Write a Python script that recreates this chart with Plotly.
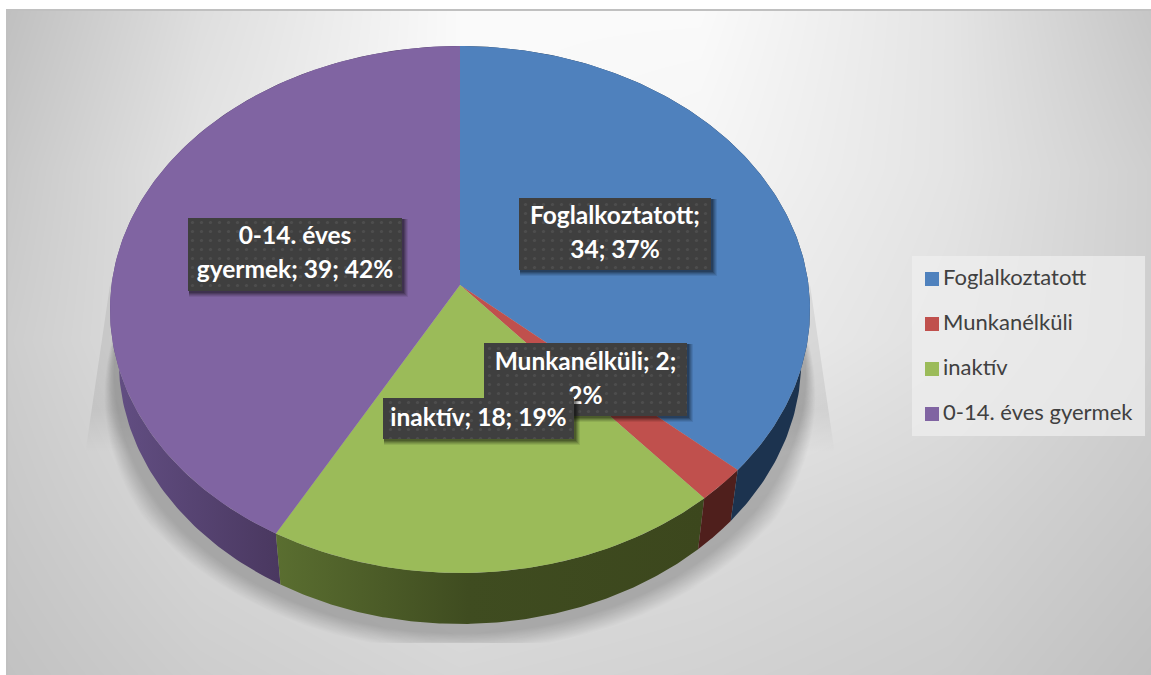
import numpy as np
import plotly.graph_objects as go

categories = ["Foglalkoztatott", "Munkanélküli", "inaktív", "0-14. éves gyermek"]
values = [34, 2, 18, 39]
top_colors = ["#4f81bd", "#c0504d", "#9bbb59", "#8064a2"]
wall_scales = [
    [[0, "#1c334f"], [1, "#1c334f"]],
    [[0, "#4f1f1c"], [1, "#4f1f1c"]],
    [[0, "#5a6e30"], [0.45, "#3f4c20"], [1, "#3c471d"]],
    [[0, "#634f84"], [0.48, "#4a3860"], [1, "#4a3860"]],
]
label_breaks = [
    ["Foglalkoztatott;", "{v}; {p}%"],
    ["Munkanélküli; {v};", "{p}%"],
    ["inaktív; {v}; {p}%"],
    ["0-14. éves", "gyermek; {v}; {p}%"],
]
label_boxes = [(519, 711, 198, 270), (484, 687, 343, 416), (383, 574, 398, 439), (188, 402, 218, 291)]
label_line_y = [[218, 252], [364, 398], [420], [238, 272]]
draw_order = [0, 3, 1, 2]
legend_y = [279, 324, 369, 414]

bg_x = [8, 200, 460, 700, 950, 1151]
bg_y = [11, 170, 340, 510, 675]
bg_z = [
    [192, 222, 250, 250, 228, 198],
    [200, 228, 250, 245, 228, 207],
    [205, 225, 240, 238, 224, 207],
    [200, 215, 225, 220, 212, 200],
    [194, 205, 214, 210, 204, 192],
]

CX, CY, RX, RY, K = 460.0, 285.0, 348.5, 261.2, 0.093
DEPTH, TAPER = 51.0, 0.975
FONT = "Lato"


def top_ring(a):
    u, v = np.sin(a), -np.cos(a)
    w = 1 - K * v
    return CX + RX * u / w, CY + RY * v / w


def bottom_ring(a, grow=0.0):
    x, y = top_ring(a)
    s = 1 + grow * np.clip((0.15 - np.cos(a)) / 0.75, 0.0, 1.0) / 350.0
    midy = 310 + DEPTH
    return CX + (x - CX) * TAPER * s, midy + (y + DEPTH - midy) * s


fig = go.Figure()
fig.add_trace(go.Heatmap(x=bg_x, y=bg_y, z=bg_z, zmin=0, zmax=255, zsmooth="best", showscale=False,
                         colorscale=[[0, "#000000"], [1, "#ffffff"]], hoverinfo="skip"))

# soft shadow under the disc
for sgn in (1, -1):
    fig.add_trace(go.Scatter(x=[CX + sgn * 350, CX + sgn * 375, CX + sgn * 280],
                             y=[285, 455, 500], mode="lines", fill="toself", line=dict(width=0),
                             hoverinfo="skip", showlegend=False,
                             fillgradient=dict(type="vertical", colorscale=[
                                 [0, "rgba(0,0,0,0)"], [0.22, "rgba(0,0,0,0)"], [0.42, "rgba(0,0,0,0.07)"],
                                 [1, "rgba(0,0,0,0.07)"]])))
a = np.linspace(-0.6 * np.pi, 0.6 * np.pi, 200) + np.pi
for g in np.arange(36, 12, -1.5):
    x, y = bottom_ring(a, g)
    fig.add_trace(go.Scatter(x=x, y=np.minimum(y, 643), mode="lines", fill="toself", line=dict(width=0),
                             fillcolor="rgba(0,0,0,0.0135)", hoverinfo="skip", showlegend=False))

total = sum(values)
edges = 2 * np.pi * np.cumsum([0] + values) / total

# side walls
for i in [3, 2, 1, 0]:
    a = np.linspace(edges[i], edges[i + 1], 160)
    x1, y1 = top_ring(a)
    x2, y2 = bottom_ring(a)
    fig.add_trace(go.Scatter(x=np.r_[x1, x2[::-1]], y=np.r_[y1, y2[::-1]], mode="lines", fill="toself",
                             line=dict(width=0), hoverinfo="skip", showlegend=False,
                             fillgradient=dict(type="horizontal", colorscale=wall_scales[i])))
# top faces
for i, c in enumerate(categories):
    a = np.linspace(edges[i], edges[i + 1], 160)
    x, y = top_ring(a)
    fig.add_trace(go.Scatter(x=np.r_[CX, x, CX], y=np.r_[CY, y, CY], mode="lines", fill="toself",
                             line=dict(width=0), fillcolor=top_colors[i], name=c, showlegend=False,
                             hoverinfo="name"))

# data labels
for i in draw_order:
    x0, x1, y0, y1 = label_boxes[i]
    for off, al in ((6, 0.08), (5, 0.10), (4, 0.12), (3, 0.16), (2, 0.18)):
        fig.add_trace(go.Scatter(x=[x0 + 1, x1 + off, x1 + off, x0 + 1, x0 + 1],
                                 y=[y0 + 1, y0 + 1, y1 + off, y1 + off, y0 + 1], mode="lines", fill="toself",
                                 line=dict(width=0), fillcolor=f"rgba(0,0,0,{al})", hoverinfo="skip",
                                 showlegend=False))
    fig.add_trace(go.Scatter(x=[x0, x1, x1, x0, x0], y=[y0, y0, y1, y1, y0], mode="lines", fill="toself",
                             line=dict(width=0), hoverinfo="skip", showlegend=False,
                             fillcolor="#3f3f3f",
                             fillpattern=dict(shape=".", bgcolor="#3f3f3f", fgcolor="#5c5c5c", size=9, solidity=0.1)))
    p = round(100 * values[i] / total)
    texts = [t.format(v=values[i], p=p) for t in label_breaks[i]]
    fig.add_trace(go.Scatter(x=[(x0 + x1) / 2] * len(texts), y=label_line_y[i], mode="text", text=texts,
                             textposition="middle center", hoverinfo="skip", showlegend=False,
                             textfont=dict(family=FONT, size=24.5, color="#ffffff", weight="bold")))

# legend panel
fig.add_trace(go.Scatter(x=[912, 1145, 1145, 912, 912], y=[256, 256, 436, 436, 256], mode="lines", fill="toself",
                         line=dict(width=0), fillcolor="rgba(240,240,240,0.7)", hoverinfo="skip", showlegend=False))
fig.add_trace(go.Scatter(x=[932] * 4, y=legend_y, mode="markers", hoverinfo="skip", showlegend=False,
                         marker=dict(symbol="square", size=14, color=top_colors, line=dict(width=0))))
fig.add_trace(go.Scatter(x=[943] * 4, y=legend_y, mode="text", text=categories, textposition="middle right",
                         hoverinfo="skip", showlegend=False, textfont=dict(family=FONT, size=22, color="#404040")))

fig.update_layout(
    width=1151, height=675,
    margin=dict(l=8, r=0, t=11, b=0, pad=0, autoexpand=False),
    paper_bgcolor="#ffffff", plot_bgcolor="#e0e0e0",
    xaxis=dict(range=[8, 1151], visible=True, showgrid=False, zeroline=False, showticklabels=False,
               ticks="", showline=True, side="top", linecolor="#c0c0c0", linewidth=2),
    yaxis=dict(range=[675, 11], visible=True, showgrid=False, zeroline=False, showticklabels=False,
               ticks="", showline=True, linecolor="#c0c0c0", linewidth=2),
    showlegend=False,
)
fig.write_html("out.html", config={"displayModeBar": False},
               post_script="document.body.style.margin='0';document.body.style.overflow='hidden';")
